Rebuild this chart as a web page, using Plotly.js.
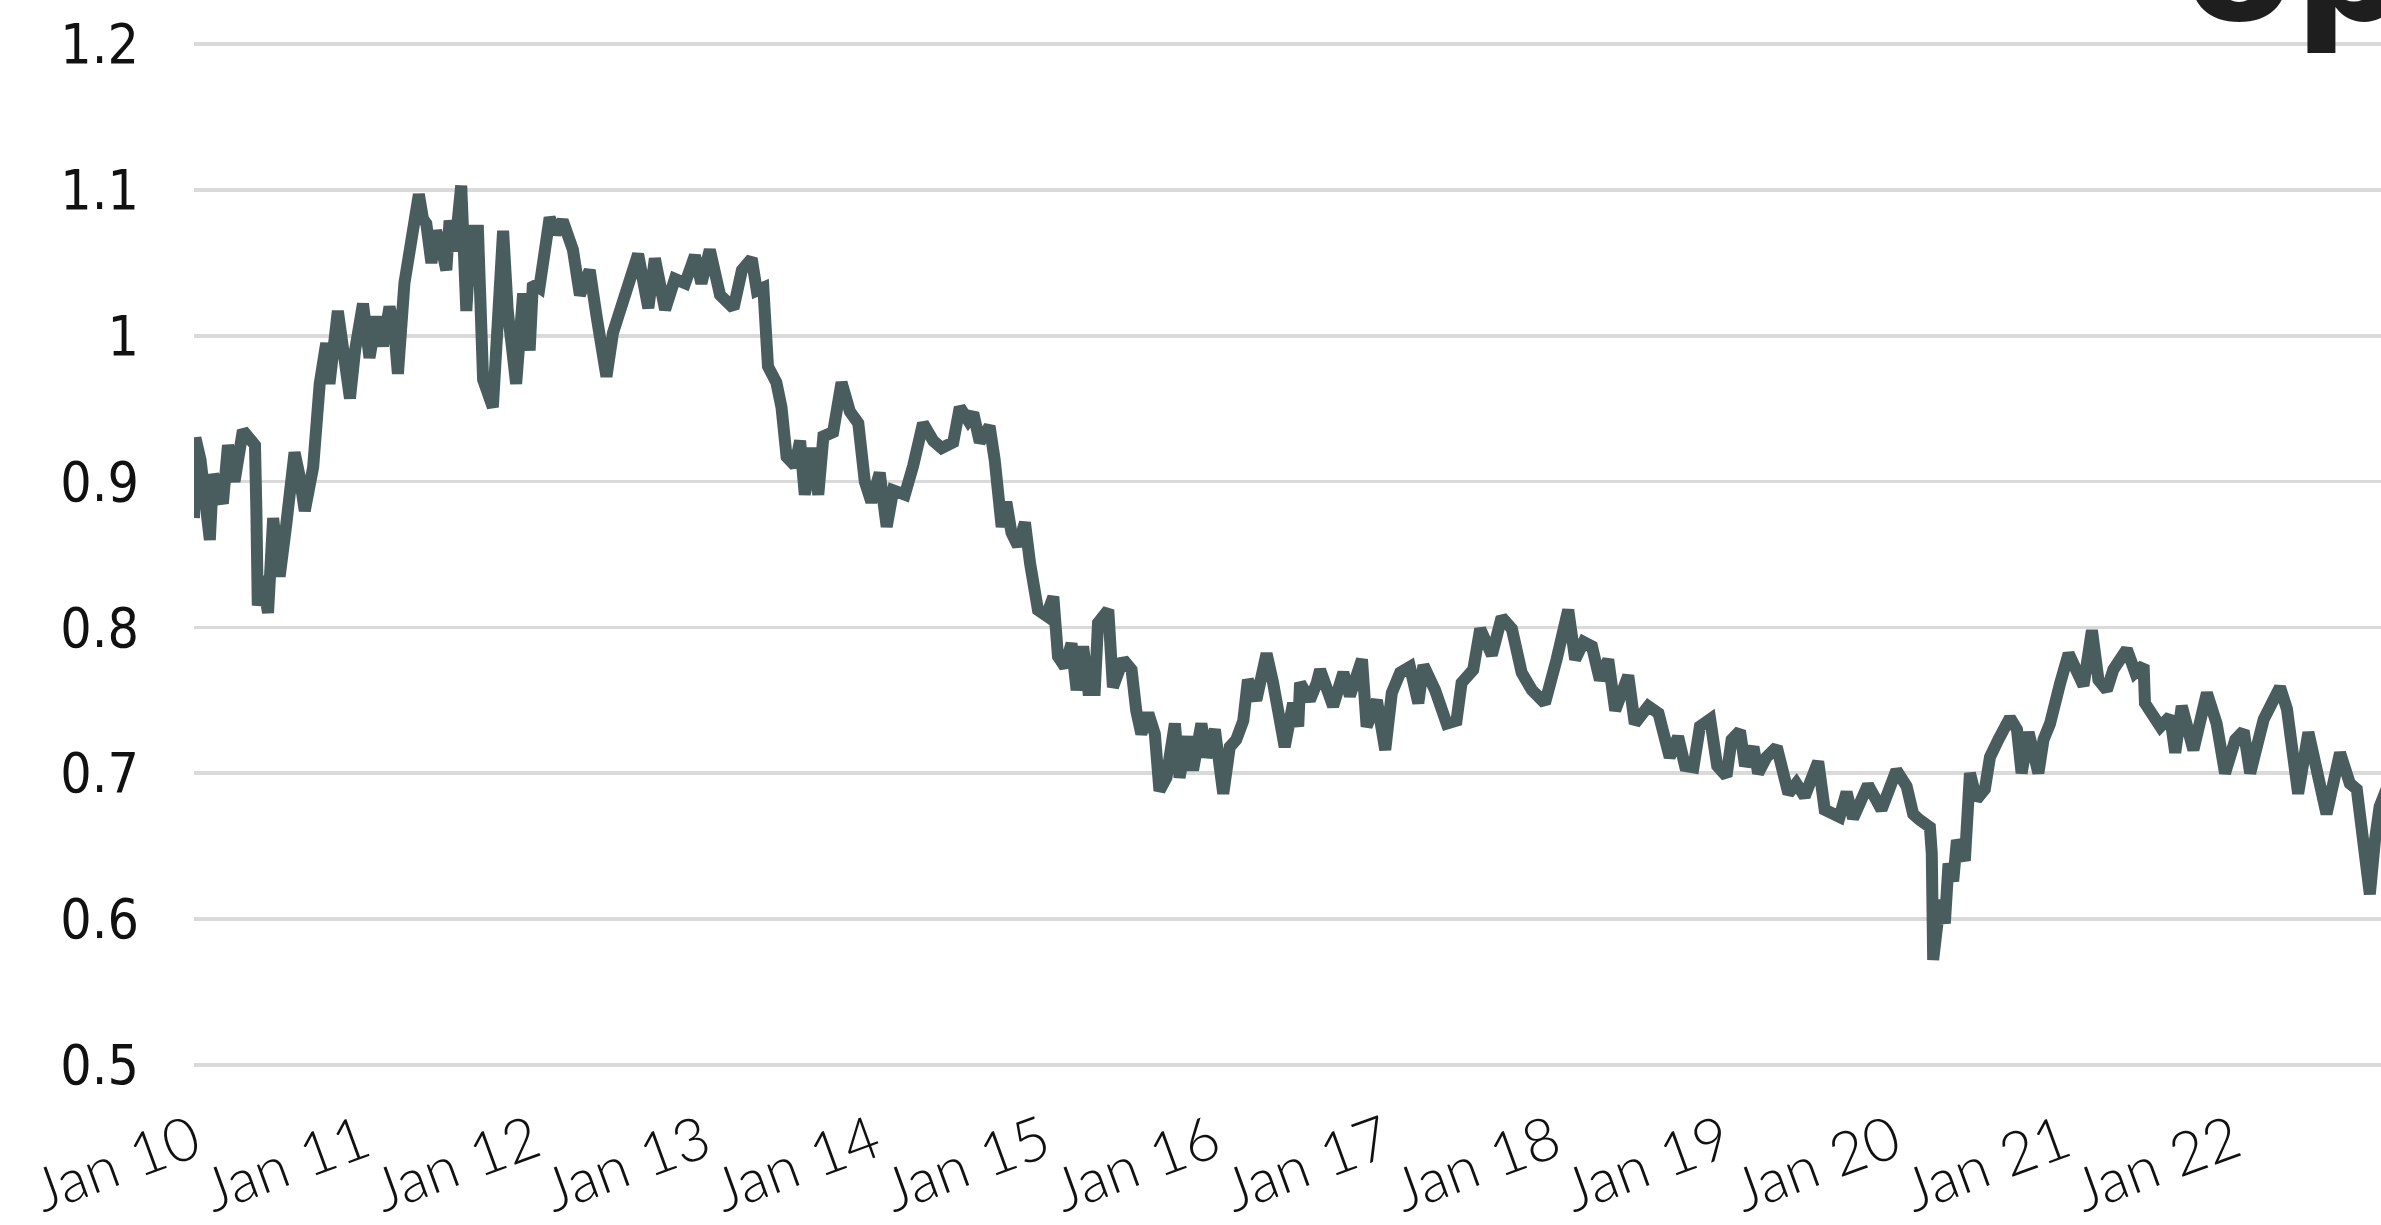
<!DOCTYPE html>
<html>
<head>
<meta charset="utf-8">
<script src="https://cdn.plot.ly/plotly-3.0.1.min.js"></script>
<style>
  html, body { margin: 0; padding: 0; background: #ffffff; overflow: hidden; }
  #chart { width: 2381px; height: 1225px; }
</style>
</head>
<body>
<div id="chart"></div>
<script>
// Decimal-year positions of the readings (Jan 2010 = 2010.0)
const yearPos = [
  2010.000,2010.010,2010.040,2010.094,2010.114,2010.150,2010.172,2010.202,2010.241,2010.290,
  2010.329,2010.359,2010.369,2010.378,2010.400,2010.420,2010.437,2010.467,2010.480,2010.506,
  2010.545,2010.594,2010.620,2010.653,2010.702,2010.741,2010.780,2010.800,2010.849,2010.880,
  2010.918,2010.950,2010.996,2011.035,2011.075,2011.114,2011.153,2011.180,2011.202,2011.241,
  2011.271,2011.325,2011.350,2011.369,2011.398,2011.427,2011.460,2011.486,2011.506,2011.535,
  2011.575,2011.604,2011.620,2011.633,2011.673,2011.702,2011.761,2011.790,2011.820,2011.849,
  2011.898,2011.937,2011.976,2011.996,2012.035,2012.094,2012.130,2012.172,
  2012.231,2012.271,2012.329,2012.369,2012.427,2012.467,2012.516,2012.565,2012.614,2012.673,
  2012.712,2012.771,2012.829,2012.888,2012.947,2012.986,2013.035,2013.094,2013.173,2013.222,
  2013.280,2013.310,2013.349,2013.378,2013.427,2013.457,2013.486,2013.535,2013.565,2013.594,
  2013.633,2013.673,2013.702,2013.761,2013.810,2013.859,2013.908,2013.947,2013.986,2014.035,
  2014.075,2014.114,2014.182,2014.231,2014.290,2014.349,2014.398,
  2014.467,2014.506,2014.555,2014.584,2014.624,2014.682,2014.712,2014.731,2014.751,2014.780,
  2014.810,2014.849,2014.888,2014.918,2014.967,2015.016,2015.055,2015.084,2015.124,2015.163,
  2015.192,2015.231,2015.261,2015.300,2015.320,2015.379,2015.408,2015.467,2015.516,2015.545,
  2015.575,2015.614,2015.653,2015.682,2015.722,2015.771,2015.800,2015.849,2015.878,2015.927,
  2015.957,2016.006,2016.055,2016.094,2016.133,2016.173,2016.202,2016.251,2016.310,2016.349,
  2016.418,2016.467,2016.496,2016.506,2016.565,2016.604,2016.624,
  2016.702,2016.761,2016.800,2016.869,2016.898,2016.957,2017.006,2017.045,2017.094,2017.153,
  2017.202,2017.231,2017.300,2017.369,2017.427,2017.457,2017.525,2017.565,2017.633,2017.692,
  2017.751,2017.810,2017.869,2017.947,2018.016,2018.084,2018.124,2018.173,2018.222,2018.271,
  2018.320,2018.359,2018.437,2018.476,2018.555,2018.614,2018.682,2018.731,2018.771,2018.820,
  2018.859,2018.918,2018.960,2019.016,
  2019.045,2019.094,2019.124,2019.173,2019.202,2019.251,2019.310,2019.379,2019.427,2019.476,
  2019.555,2019.594,2019.682,2019.722,2019.761,2019.849,2019.927,2020.016,2020.075,2020.114,
  2020.153,2020.212,2020.222,2020.231,2020.271,2020.300,2020.320,2020.349,2020.369,2020.418,
  2020.447,2020.486,2020.535,2020.565,2020.614,2020.682,2020.722,2020.751,2020.790,2020.849,
  2020.878,2020.918,2020.976,2021.025,2021.114,2021.163,2021.202,
  2021.251,2021.290,2021.369,2021.418,2021.467,2021.476,2021.565,2021.624,2021.653,2021.692,
  2021.760,2021.839,2021.898,2021.947,2022.006,2022.055,2022.094,2022.173,2022.222,2022.271,
  2022.310,2022.339,2022.378,2022.437,2022.476,2022.545,2022.624,2022.682,2022.722,2022.751,
  2022.800,2022.829,2022.855,2022.900
];

const ratioValues = [
  0.875,0.930,0.915,0.860,0.905,0.895,0.885,0.925,0.900,0.935,
  0.930,0.925,0.880,0.815,0.835,0.820,0.810,0.875,0.860,0.835,
  0.870,0.920,0.905,0.880,0.910,0.967,0.995,0.967,1.017,0.990,
  0.957,0.990,1.022,0.985,1.013,0.993,1.020,1.005,0.974,1.036,
  1.058,1.097,1.080,1.077,1.050,1.072,1.060,1.045,1.079,1.058,
  1.103,1.017,1.050,1.072,1.072,0.970,0.951,1.020,1.072,1.017,
  0.967,1.029,0.990,1.036,1.033,1.081,1.070,1.079,
  1.059,1.028,1.045,1.013,0.972,1.002,1.022,1.042,1.056,1.019,
  1.053,1.018,1.039,1.036,1.055,1.036,1.059,1.028,1.019,1.045,
  1.053,1.031,1.033,0.979,0.968,0.951,0.917,0.911,0.928,0.891,
  0.923,0.891,0.931,0.934,0.968,0.948,0.940,0.900,0.886,0.906,
  0.869,0.894,0.891,0.911,0.940,0.928,0.923,
  0.927,0.951,0.942,0.947,0.927,0.938,0.915,0.895,0.869,0.886,
  0.865,0.856,0.872,0.844,0.812,0.808,0.821,0.780,0.773,0.789,
  0.757,0.787,0.757,0.757,0.803,0.812,0.759,0.778,0.771,0.743,
  0.727,0.741,0.727,0.688,0.697,0.734,0.697,0.725,0.702,0.734,
  0.711,0.730,0.686,0.718,0.723,0.736,0.764,0.750,0.782,0.762,
  0.718,0.748,0.732,0.762,0.750,0.762,0.771,
  0.746,0.769,0.753,0.778,0.732,0.750,0.716,0.755,0.769,0.773,
  0.748,0.774,0.757,0.734,0.736,0.762,0.771,0.799,0.781,0.807,
  0.799,0.769,0.757,0.748,0.778,0.812,0.778,0.790,0.787,0.764,
  0.778,0.743,0.767,0.734,0.746,0.741,0.711,0.725,0.705,0.704,
  0.732,0.737,0.705,0.698,
  0.723,0.729,0.705,0.718,0.700,0.711,0.718,0.686,0.693,0.684,
  0.708,0.675,0.670,0.687,0.669,0.692,0.675,0.702,0.691,0.672,
  0.668,0.663,0.645,0.572,0.613,0.597,0.638,0.626,0.654,0.640,
  0.700,0.682,0.689,0.711,0.723,0.738,0.730,0.700,0.728,0.700,
  0.723,0.734,0.762,0.782,0.760,0.798,0.764,
  0.757,0.771,0.785,0.769,0.774,0.748,0.732,0.739,0.714,0.746,
  0.716,0.755,0.734,0.700,0.723,0.729,0.700,0.737,0.751,0.759,
  0.744,0.711,0.686,0.728,0.705,0.672,0.714,0.693,0.689,0.659,
  0.617,0.654,0.677,0.690
];

const yTickVals = [0.5, 0.6, 0.7, 0.8, 0.9, 1.0, 1.1, 1.2];
const yTickText = ["0.5", "0.6", "0.7", "0.8", "0.9", "1", "1.1", "1.2"];
const logoText = "op";

function yearToIso(t) {
  const y = Math.floor(t);
  const start = Date.UTC(y, 0, 1);
  const end = Date.UTC(y + 1, 0, 1);
  return new Date(start + (t - y) * (end - start)).toISOString().slice(0, 10);
}
const dates = yearPos.map(yearToIso);

const trace = {
  x: dates,
  y: ratioValues,
  type: "scatter",
  mode: "lines",
  line: { color: "#4a5d5e", width: 12, shape: "linear" },
  hoverinfo: "skip"
};

const layout = {
  width: 2381,
  height: 1225,
  margin: { l: 194, r: 0, t: 42, b: 158, pad: 0 },
  paper_bgcolor: "#ffffff",
  plot_bgcolor: "#ffffff",
  showlegend: false,
  xaxis: {
    type: "date",
    range: ["2010-01-01", "2022-11-12"],
    tick0: "2010-01-01",
    dtick: "M12",
    tickformat: "%b %y",
    tickangle: -20,
    showgrid: false,
    zeroline: false,
    showline: false,
    ticks: "",
    ticklabelstandoff: 28,
    tickfont: { family: "Lato, 'Open Sans', sans-serif", size: 60, color: "#111111", weight: 300 }
  },
  yaxis: {
    range: [0.4985, 1.2015],
    tickvals: yTickVals,
    ticktext: yTickText,
    showgrid: true,
    gridcolor: "#dadada",
    gridwidth: 3.5,
    zeroline: false,
    showline: false,
    ticks: "",
    ticklabelstandoff: 54,
    tickfont: { family: "'Liberation Sans Narrow', 'DejaVu Sans Condensed', sans-serif", size: 55, color: "#111111" }
  },
  annotations: [{
    text: logoText,
    xref: "paper", yref: "paper",
    x: (2182 - 194) / 2187, y: (1067.2 - 60) / 1025.4,
    xanchor: "left", yanchor: "bottom",
    showarrow: false,
    font: { family: "'DejaVu Sans', sans-serif", size: 160, color: "#1e1e1e", weight: 700 }
  }]
};

Plotly.newPlot("chart", [trace], layout, { staticPlot: true, displayModeBar: false });
</script>
</body>
</html>
